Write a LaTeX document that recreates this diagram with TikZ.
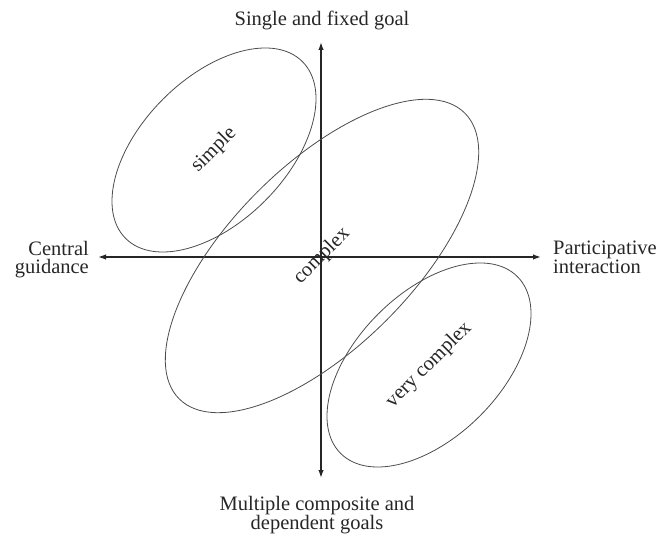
\documentclass[tikz,border=0pt]{standalone}
\usepackage{fontspec}
\setmainfont{Liberation Serif}
\usetikzlibrary{shapes.geometric,arrows.meta}
\begin{document}
\begin{tikzpicture}[x=1pt,y=1pt,
  lbl/.style={font=\fontsize{20.5}{17.5}\selectfont, inner sep=0pt, text=black!85},
  region/.style={ellipse, draw=black!70, line width=0.8pt, inner sep=0pt,
    rotate=45, font=\fontsize{20.5}{24}\selectfont, text=black!85},
  axis/.style={line width=1.4pt, draw=black!85,
    {Latex[length=8pt,width=5.5pt]}-{Latex[length=8pt,width=5.5pt]}}]
\useasboundingbox (0,0) rectangle (660,535);

% axes
\coordinate (top) at (321,493);
\coordinate (bot) at (321,57);
\coordinate (lft) at (98,278);
\coordinate (rgt) at (541,278);
\draw[axis] (bot) -- (top);
\draw[axis] (lft) -- (rgt);

% the three tilted regions
\node[region, minimum width=250pt, minimum height=144pt] (simple) at (214,385) {simple};
\node[region, minimum width=404pt, minimum height=182pt] (complex) at (322,279) {complex};
\node[region, minimum width=250pt, minimum height=144pt] (vcomplex) at (429,170) {very complex};

% axis labels
\node[lbl, anchor=base] (goal) at (322,509) {Single and fixed goal};
\node[lbl, anchor=base east, align=right] (central) at (89,261.7) {Central\\guidance};
\node[lbl, anchor=base west, align=left] (particip) at (553,261.7) {Participative\\interaction};
\node[lbl, anchor=base, align=center, font=\fontsize{20.5}{18.7}\selectfont] (multi) at (317,5.7)
  {Multiple composite and\\dependent goals};
\end{tikzpicture}
\end{document}
